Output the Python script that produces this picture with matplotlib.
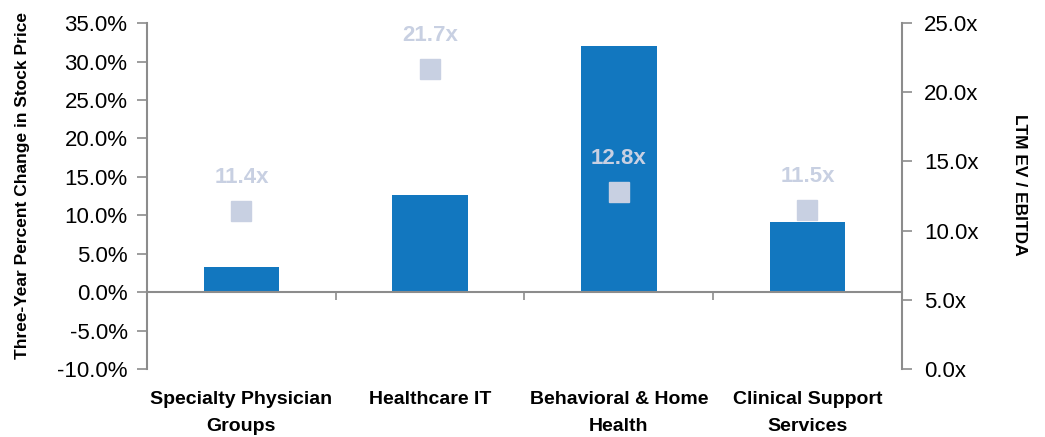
import numpy as np
import matplotlib
matplotlib.use("Agg")
from matplotlib import pyplot as plt
from matplotlib.ticker import FuncFormatter
import matplotlib.transforms as mtransforms

categories = ["Specialty Physician\nGroups", "Healthcare IT", "Behavioral & Home\nHealth", "Clinical Support\nServices"]
price_change = [3.3, 12.7, 32.0, 9.1]     # left axis, %
ev_ebitda = [11.4, 21.7, 12.8, 11.5]      # right axis, x

bar_color = "#1277BF"
marker_color = "#C8D0E2"
axis_color = "#8C8C8C"

plt.rcParams['font.family'] = ['Liberation Sans Narrow', 'Liberation Sans', 'DejaVu Sans']

fig = plt.figure(figsize=(10.45, 4.37), dpi=100)
ax = fig.add_axes([0.1407, 0.1556, 0.863 - 0.1407, 0.947 - 0.1556])
ax2 = ax.twinx()

x = np.arange(len(categories))
ax.bar(x, price_change, width=0.4, color=bar_color, zorder=2)
ax.set_xlim(-0.5, 3.5)
ax.set_ylim(-10, 35)
ax.set_yticks(np.arange(-10, 36, 5))
ax.yaxis.set_major_formatter(FuncFormatter(lambda v, p: f"{v:.1f}%"))

ax2.set_ylim(0, 25)
ax2.set_yticks(np.arange(0, 26, 5))
ax2.yaxis.set_major_formatter(FuncFormatter(lambda v, p: f"{v:.1f}x"))
ax2.plot(x, ev_ebitda, linestyle="none", marker="s", markersize=14, color=marker_color, zorder=3)
for xi, v in zip(x, ev_ebitda):
    ax2.annotate(f"{v:.1f}x", (xi, v), xytext=(0, 24), textcoords="offset points",
                 ha="center", va="center", color=marker_color, fontsize=16, fontweight="bold")

# axes styling
for a in (ax, ax2):
    a.spines["top"].set_visible(False)
ax.spines["right"].set_visible(False)
ax2.spines["left"].set_visible(False)
ax2.spines["bottom"].set_visible(False)
ax.spines["left"].set_color(axis_color)
ax2.spines["right"].set_color(axis_color)
ax.spines["left"].set_linewidth(1.5)
ax2.spines["right"].set_linewidth(1.5)
ax.spines["bottom"].set_position(("data", 0))
ax.spines["bottom"].set_color(axis_color)
ax.spines["bottom"].set_linewidth(1.5)

ax.set_xticks([0.5, 1.5, 2.5])
ax.set_xticklabels([])
ax.tick_params(axis="x", length=6, width=1.2, color=axis_color, direction="out")
ax.tick_params(axis="y", length=7, width=1.2, color=axis_color, labelsize=16, pad=7)
ax2.tick_params(axis="y", length=7, width=1.2, color=axis_color, labelsize=16, pad=9)

trans = mtransforms.blended_transform_factory(ax.transData, ax.transAxes)
for xi, lab in zip(x, categories):
    ax.text(xi, -0.065, lab, transform=trans, ha="center", va="top",
            fontsize=14, fontweight="bold", linespacing=1.75)

ax.set_ylabel("Three-Year Percent Change in Stock Price", fontsize=12.5, fontweight="bold")
ax.yaxis.set_label_coords(-0.155, 0.532)
ax2.set_ylabel("LTM EV / EBITDA", fontsize=12.5, fontweight="bold", rotation=-90, va="center")
ax2.yaxis.set_label_coords(1.156, 0.532)

fig.savefig("out.png", dpi=100)
